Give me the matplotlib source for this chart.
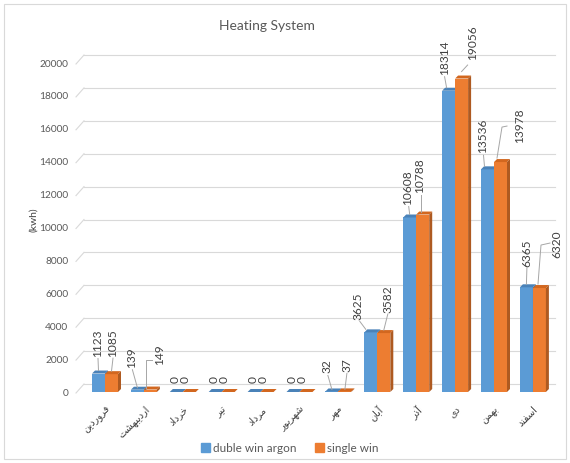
import matplotlib
matplotlib.use("Agg")
import matplotlib.pyplot as plt
from matplotlib.patches import Polygon, Patch, Rectangle

# monthly heating demand, kWh
months = ["فروردین", "اردیبهشت", "خرداد", "تیر", "مرداد", "شهریور",
          "مهر", "آبان", "آذر", "دی", "بهمن", "اسفند"]
double_argon = [1123, 139, 0, 0, 0, 0, 32, 3625, 10608, 18314, 13536, 6365]
single_win = [1085, 149, 0, 0, 0, 0, 37, 3582, 10788, 19056, 13978, 6320]
series_names = ["duble win argon", "single win"]
y_ticks = list(range(0, 20001, 2000))

BLUE, BLUE_TOP, BLUE_SIDE = "#5b9bd5", "#4a82b8", "#41719c"
ORANGE, ORANGE_TOP, ORANGE_SIDE = "#ed7d31", "#d2671f", "#ae5a21"
GRID = "#d9d9d9"
TEXT = "#595959"
LEADER = "#a6a6a6"

# label placement in pixels relative to bar top: (dx, dy, leader path)
blue_lbl = [
    (-0.5, 16.5, [(0, 3), (-0.5, 15)]),
    (-5.5, 22, [(0, 2), (-5, 20)]),
    (-1, 9, None), (-1, 9, None), (-1, 9, None), (-1, 9, None),
    (-5, 18, [(0, 2), (-4, 16)]),
    (-13, 12, [(-5, 3), (-11, 11)]),
    (-2, 12, [(0, 3), (-1, 11)]),
    (-4, 15.5, [(-2, 3), (-4, 14)]),
    (-4.5, 16, [(-3, 3), (-4, 14)]),
    (0.5, 20, [(0, 3), (0.5, 19)]),
]
orange_lbl = [
    (1.5, 17, [(0, 3), (1.5, 16)]),
    (9.6, 24.5, [(-4, 2), (-4, 29.5), (1.5, 29.5)]),
    (-4, 9, None), (-4, 9, None), (-4, 9, None), (-4, 9, None),
    (2, 19, [(0, 2), (2, 18)]),
    (4, 20, [(0, 3), (4, 19)]),
    (-2.7, 21.5, [(-1.7, 3), (-1.7, 20)]),
    (11.4, 18.5, [(0, 7), (6, 13.5)]),
    (19.5, 19, [(-3.5, 4), (1.5, 35), (6.5, 36)]),
    (17.6, 30, [(-1.4, 4), (1.6, 43), (10.6, 45)]),
]

# Arabic presentation forms: isolated, final, initial, medial
FORMS = {
    "ا": (0xFE8D, 0xFE8E, None, None),
    "آ": (0xFE81, 0xFE82, None, None),
    "د": (0xFEA9, 0xFEAA, None, None),
    "ذ": (0xFEAB, 0xFEAC, None, None),
    "ر": (0xFEAD, 0xFEAE, None, None),
    "و": (0xFEED, 0xFEEE, None, None),
    "ب": (0xFE8F, 0xFE90, 0xFE91, 0xFE92),
    "ت": (0xFE95, 0xFE96, 0xFE97, 0xFE98),
    "خ": (0xFEA5, 0xFEA6, 0xFEA7, 0xFEA8),
    "س": (0xFEB1, 0xFEB2, 0xFEB3, 0xFEB4),
    "ش": (0xFEB5, 0xFEB6, 0xFEB7, 0xFEB8),
    "ف": (0xFED1, 0xFED2, 0xFED3, 0xFED4),
    "م": (0xFEE1, 0xFEE2, 0xFEE3, 0xFEE4),
    "ن": (0xFEE5, 0xFEE6, 0xFEE7, 0xFEE8),
    "ه": (0xFEE9, 0xFEEA, 0xFEEB, 0xFEEC),
    "ی": (0xFBFC, 0xFBFD, 0xFBFE, 0xFBFF),
}


def shape_fa(word):
    """Join Persian letters and put them in visual (left-to-right) order."""
    out = []
    for i, ch in enumerate(word):
        iso, fin, ini, med = FORMS[ch]
        prev_joins = i > 0 and FORMS[word[i - 1]][2] is not None
        next_joins = ini is not None and i < len(word) - 1
        if prev_joins and next_joins:
            g = med
        elif prev_joins:
            g = fin
        elif next_joins:
            g = ini
        else:
            g = iso
        out.append(chr(g))
    return "".join(reversed(out))


plt.rcParams["font.family"] = ["Lato", "DejaVu Sans"]

W, H = 570, 463
fig = plt.figure(figsize=(W / 100, H / 100), dpi=100)

# plot area in pixels
left_px, right_px, top_px, bot_px = 80, 555, 40, 400
ax = fig.add_axes([left_px / W, 1 - bot_px / H,
                   (right_px - left_px) / W, (bot_px - top_px) / H])

zero_px, k = 392, 329 / 20000  # pixel row of 0, pixels per kWh
cat0_px, step_px = 105, 38.9
ax.set_xlim((left_px - cat0_px) / step_px, (right_px - cat0_px) / step_px)
ax.set_ylim((zero_px - bot_px) / k, (zero_px - top_px) / k)
sx, sy = 1 / step_px, 1 / k  # data units per pixel

for s in ax.spines.values():
    s.set_visible(False)

# back-wall gridlines with the slanted side edge
ytr = ax.get_yaxis_transform()
for v in y_ticks:
    ax.plot([4 / 475, 1], [v + 8 * sy, v + 8 * sy], color=GRID, lw=0.8,
            transform=ytr, clip_on=False, zorder=0)
    ax.plot([-4 / 475, 4 / 475], [v - 1 * sy, v + 8 * sy], color=GRID,
            lw=0.8, transform=ytr, clip_on=False, zorder=0)

ax.set_yticks(y_ticks)
ax.set_yticklabels([str(v) for v in y_ticks], fontsize=7.3, color=TEXT)
ax.tick_params(axis="y", length=0, pad=8.5)
ax.set_ylabel("(kwh)", fontsize=7.5, color="#404040", labelpad=1)

x = list(range(len(months)))
ax.set_xticks(x)
ax.set_xticklabels([shape_fa(m) for m in months], rotation=45, ha="right",
                   rotation_mode="anchor", fontsize=7, color="#404040",
                   family=["DejaVu Sans"])
ax.tick_params(axis="x", length=0, pad=3)

bw = 13 * sx
ddx, ddy = 3 * sx, 3 * sy


def draw_bars(offset, values, front, top, side, labels):
    xs = [i + offset for i in x]
    ax.bar(xs, values, width=bw, color=front, zorder=2)
    for xc, v, (dx, dy, path) in zip(xs, values, labels):
        x0, x1 = xc - bw / 2, xc + bw / 2
        ax.add_patch(Polygon([(x0, v), (x1, v), (x1 + ddx, v + ddy),
                              (x0 + ddx, v + ddy)], closed=True,
                             facecolor=top, edgecolor="none", zorder=2))
        ax.add_patch(Polygon([(x1, 0), (x1 + ddx, ddy), (x1 + ddx, v + ddy),
                              (x1, v)], closed=True, facecolor=side,
                             edgecolor="none", zorder=2))
        ax.text(xc + dx * sx, v + dy * sy, str(v), rotation=90, ha="center",
                va="bottom", fontsize=8.6, color="#404040", zorder=4)
        if path:
            ax.plot([xc + px * sx for px, _ in path],
                    [v + py * sy for _, py in path],
                    color=LEADER, lw=0.7, zorder=3)


draw_bars(-bw / 2, double_argon, BLUE, BLUE_TOP, BLUE_SIDE, blue_lbl)
draw_bars(bw / 2, single_win, ORANGE, ORANGE_TOP, ORANGE_SIDE, orange_lbl)

fig.text(267 / W, 1 - 26 / H, "Heating System", ha="center", va="center",
         fontsize=10, color=TEXT)

handles = [Patch(color=BLUE), Patch(color=ORANGE)]
fig.legend(handles, series_names, loc="center", ncol=2,
           bbox_to_anchor=(290 / W, 1 - 448 / H), frameon=False,
           fontsize=8.5, labelcolor=TEXT, handlelength=0.7, handleheight=0.7,
           handletextpad=0.3, columnspacing=1.6)

# light chart border
fig.patches.append(Rectangle((4 / W, 4 / H), 562 / W, 455 / H, fill=False,
                             edgecolor="#d9d9d9", lw=0.8,
                             transform=fig.transFigure))

fig.savefig("out.png", dpi=100)
